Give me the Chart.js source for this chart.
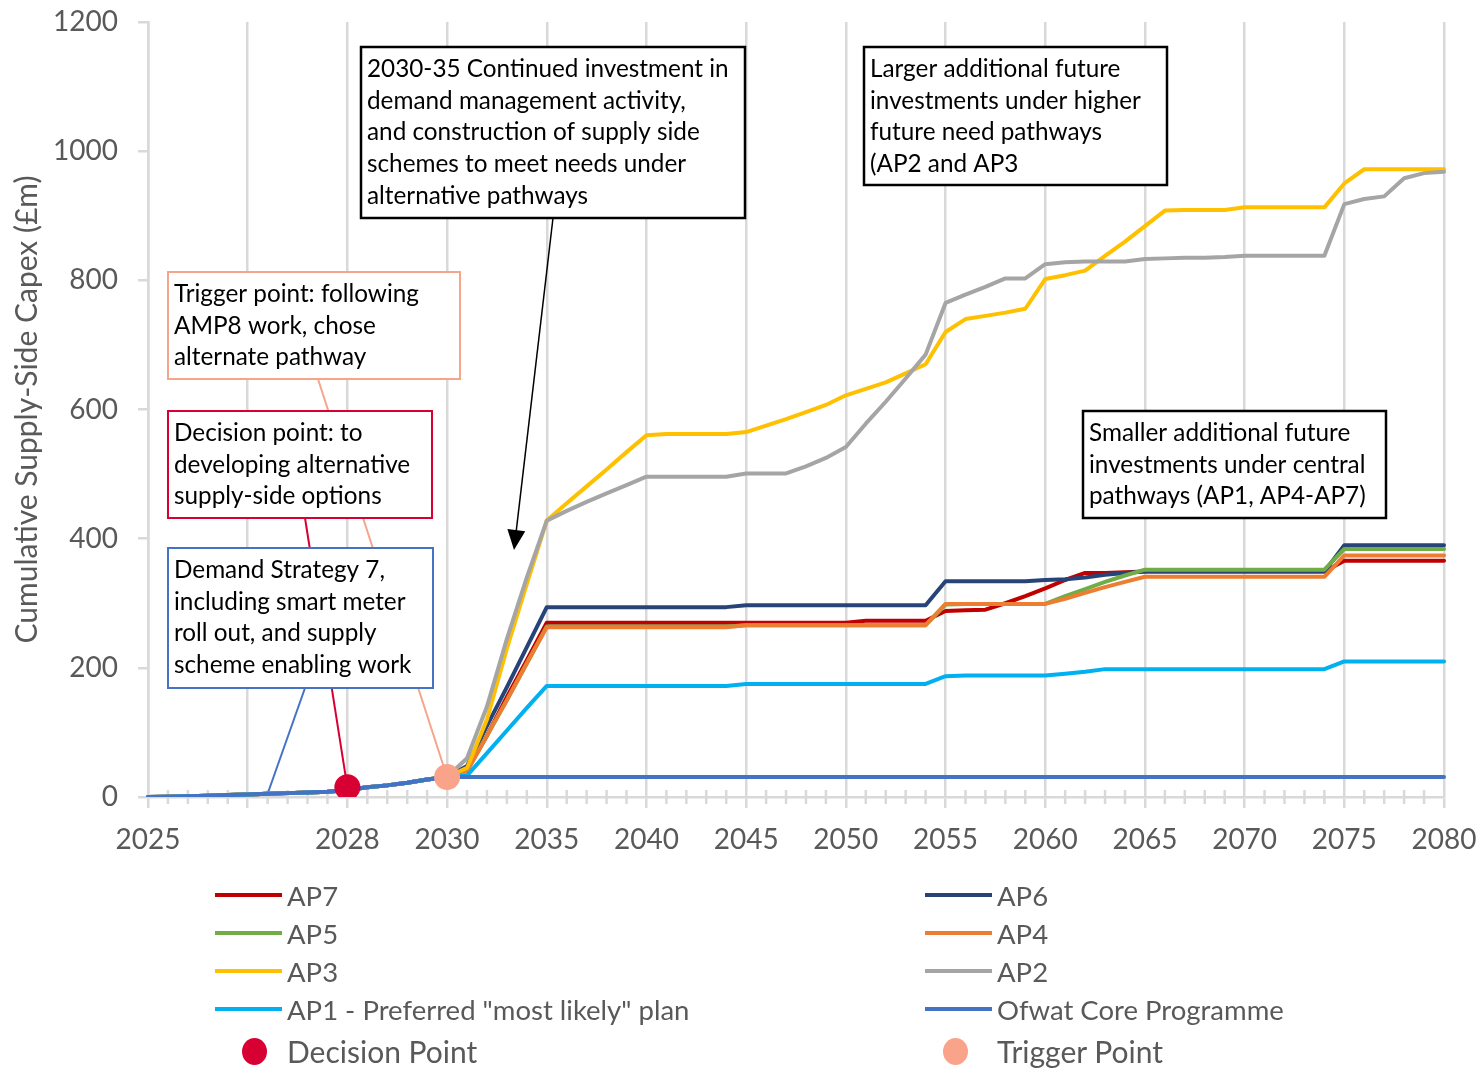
<!DOCTYPE html>
<html lang="en">
<head>
    <meta charset="UTF-8">
    <title>Cumulative Supply-Side Capex</title>
    <script src="https://cdn.jsdelivr.net/npm/chart.js"></script>
    <style>
        body {
            margin: 0;
            background-color: #ffffff;
            font-family: 'Lato', sans-serif;
        }
        #wrap {
            position: relative;
            width: 1476px;
            height: 1068px;
        }
        .legend-item {
            position: absolute;
            display: flex;
            align-items: center;
            height: 36px;
            color: #595959;
            font-size: 27.5px;
            white-space: nowrap;
        }
        .legend-line {
            display: inline-block;
            width: 67px;
            height: 4px;
            margin-right: 5px;
        }
        .legend-dot {
            display: inline-block;
            width: 25px;
            height: 27px;
            border-radius: 50%;
            margin-left: 27px;
        }
        .legend-item.big {
            font-size: 30px;
        }
    </style>
</head>
<body>
    <div id="wrap">
        <canvas id="capexChart" width="1476" height="1068"></canvas>
    </div>
    <script>
        // Categories (AMP8 is split into sub periods, then one per year)
        const categories = [
            '2025', '2025-2', '2025-3', '2026-1', '2026-2', '2026-3', '2027-1', '2027-2', '2027-3', '2027-4',
            '2028', '2028-2', '2028-3', '2029-1', '2029-2', '2030',
            '2031', '2032', '2033', '2034', '2035', '2036', '2037', '2038', '2039', '2040',
            '2041', '2042', '2043', '2044', '2045', '2046', '2047', '2048', '2049', '2050',
            '2051', '2052', '2053', '2054', '2055', '2056', '2057', '2058', '2059', '2060',
            '2061', '2062', '2063', '2064', '2065', '2066', '2067', '2068', '2069', '2070',
            '2071', '2072', '2073', '2074', '2075', '2076', '2077', '2078', '2079', '2080'
        ];
        // one label for every 5th category
        const tickLabels = ['2025', '', '2028', '2030', '2035', '2040', '2045', '2050', '2055', '2060', '2065', '2070', '2075', '2080'];

        // Series values (£m)
        const ap7 = [0, 0.5, 1, 2, 3, 4, 5, 6, 7, 8, 11, 15, 18, 22, 27, 31,
            42, 95, 155, 212, 270,
            270, 270, 270, 270, 270,
            270, 270, 270, 270, 270,
            270, 270, 270, 270, 270,
            273, 273, 273, 273, 288,
            289, 290, 300, 311, 323,
            336, 347, 347, 348, 349,
            349, 349, 349, 349, 349,
            349, 349, 349, 349, 366,
            366, 366, 366, 366, 366];
        const ap6 = [0, 0.5, 1, 2, 3, 4, 5, 6, 7, 8, 11, 15, 18, 22, 27, 31,
            48, 110, 170, 232, 294,
            294, 294, 294, 294, 294,
            294, 294, 294, 294, 297,
            297, 297, 297, 297, 297,
            297, 297, 297, 297, 334,
            334, 334, 334, 334, 336,
            337, 340, 344, 347, 349,
            349, 349, 349, 349, 349,
            349, 349, 349, 349, 390,
            390, 390, 390, 390, 390];
        const ap5 = [0, 0.5, 1, 2, 3, 4, 5, 6, 7, 8, 11, 15, 18, 22, 27, 31,
            40, 95, 150, 207, 264,
            264, 264, 264, 264, 264,
            264, 264, 264, 264, 266,
            266, 266, 266, 266, 266,
            266, 266, 266, 266, 298,
            299, 299, 299, 299, 299,
            311, 322, 333, 343, 352,
            352, 352, 352, 352, 352,
            352, 352, 352, 352, 384,
            384, 384, 384, 384, 384];
        const ap4 = [0, 0.5, 1, 2, 3, 4, 5, 6, 7, 8, 11, 15, 18, 22, 27, 31,
            40, 95, 150, 207, 263,
            263, 263, 263, 263, 263,
            263, 263, 263, 263, 266,
            266, 266, 266, 266, 266,
            266, 266, 266, 266, 299,
            299, 299, 299, 299, 299,
            307, 316, 325, 333, 341,
            341, 341, 341, 341, 341,
            341, 341, 341, 341, 374,
            374, 374, 374, 374, 374];
        const ap3 = [0, 0.5, 1, 2, 3, 4, 5, 6, 7, 8, 11, 15, 18, 22, 27, 31,
            45, 120, 230, 330, 428,
            455, 481, 507, 534, 560,
            562, 562, 562, 562, 565,
            575, 585, 596, 607, 622,
            632, 642, 656, 670, 720,
            740, 745, 750, 756, 802,
            808, 815, 838, 860, 884,
            908, 909, 909, 909, 913,
            913, 913, 913, 913, 950,
            972, 972, 972, 972, 972];
        const ap2 = [0, 0.5, 1, 2, 3, 4, 5, 6, 7, 8, 11, 15, 18, 22, 27, 31,
            60, 140, 245, 340, 428,
            443, 457, 470, 483, 496,
            496, 496, 496, 496, 501,
            501, 501, 512, 525, 542,
            578, 612, 648, 685, 765,
            778, 790, 803, 803, 825,
            828, 829, 829, 829, 833,
            834, 835, 835, 836, 838,
            838, 838, 838, 838, 918,
            926, 930, 958, 966, 968];
        const ap1 = [0, 0.5, 1, 2, 3, 4, 5, 6, 7, 8, 11, 15, 18, 22, 27, 31,
            33, 68, 103, 138, 172,
            172, 172, 172, 172, 172,
            172, 172, 172, 172, 175,
            175, 175, 175, 175, 175,
            175, 175, 175, 175, 187,
            188, 188, 188, 188, 188,
            191, 194, 198, 198, 198,
            198, 198, 198, 198, 198,
            198, 198, 198, 198, 210,
            210, 210, 210, 210, 210];
        const ofwat = [0, 0.5, 1, 2, 3, 4, 5, 6, 7, 8, 11, 15, 18, 22, 27, 31,
            31, 31, 31, 31, 31, 31, 31, 31, 31, 31,
            31, 31, 31, 31, 31, 31, 31, 31, 31, 31,
            31, 31, 31, 31, 31, 31, 31, 31, 31, 31,
            31, 31, 31, 31, 31, 31, 31, 31, 31, 31,
            31, 31, 31, 31, 31, 31, 31, 31, 31, 31];
        const decisionPoint = [{ x: '2028', y: 15 }];
        const triggerPoint = [{ x: '2030', y: 31 }];

        const seriesNames = ['AP7', 'AP6', 'AP5', 'AP4', 'AP3', 'AP2', 'AP1 - Preferred "most likely" plan', 'Ofwat Core Programme'];
        const seriesData = [ap7, ap6, ap5, ap4, ap3, ap2, ap1, ofwat];
        const seriesColors = ['#c00000', '#264478', '#70ad47', '#ed7d31', '#ffc000', '#a5a5a5', '#00b0f0', '#4472c4'];

        const gridGrey = '#d9d9d9';
        const textGrey = '#595959';

        // Build datasets, later ones drawn on top like in Excel
        const datasets = seriesNames.map((name, i) => ({
            label: name,
            data: seriesData[i],
            borderColor: seriesColors[i],
            backgroundColor: seriesColors[i],
            borderWidth: 4,
            pointRadius: 0,
            tension: 0,
            borderJoinStyle: 'round',
            borderCapStyle: 'round',
            order: 20 - i
        }));
        datasets.push({
            label: 'Decision Point',
            data: decisionPoint,
            showLine: false,
            pointRadius: 13,
            pointBackgroundColor: '#d80032',
            pointBorderWidth: 0,
            backgroundColor: '#d80032',
            order: 2
        });
        datasets.push({
            label: 'Trigger Point',
            data: triggerPoint,
            showLine: false,
            pointRadius: 13,
            pointBackgroundColor: '#f9a38a',
            pointBorderWidth: 0,
            backgroundColor: '#f9a38a',
            order: 1
        });

        // Annotation boxes (pixel layout)
        const notes = [
            { x: 361, y: 47, w: 384, h: 171, color: '#000000', lw: 2.5,
              lines: ['2030-35 Continued investment in', 'demand management activity,', 'and construction of supply side', 'schemes to meet needs under', 'alternative pathways'] },
            { x: 864, y: 47, w: 303, h: 138, color: '#000000', lw: 2.5,
              lines: ['Larger additional future', 'investments under higher', 'future need pathways', '(AP2 and AP3'] },
            { x: 1083, y: 411, w: 303, h: 107, color: '#000000', lw: 2.5,
              lines: ['Smaller additional future', 'investments under central', 'pathways (AP1, AP4-AP7)'] },
            { x: 168, y: 272, w: 292, h: 107, color: '#f4a58a', lw: 2,
              lines: ['Trigger point: following', 'AMP8 work, chose', 'alternate pathway'] },
            { x: 168, y: 411, w: 264, h: 107, color: '#d80032', lw: 2,
              lines: ['Decision point: to', 'developing alternative', 'supply-side options'] },
            { x: 168, y: 548, w: 265, h: 140, color: '#4472c4', lw: 2,
              lines: ['Demand Strategy 7,', 'including smart meter', 'roll out, and supply', 'scheme enabling work'] }
        ];

        // Plugin for minor ticks, callout lines and text boxes
        const annotationPlugin = {
            id: 'annotations',
            beforeDatasetsDraw(chart) {
                const ctx = chart.ctx;
                const xs = chart.scales.x;
                const ys = chart.scales.y;
                const bottom = chart.chartArea.bottom;

                // minor cross ticks on the category axis
                ctx.save();
                ctx.strokeStyle = gridGrey;
                ctx.lineWidth = 2.5;
                for (let i = 0; i < categories.length; i++) {
                    if (i % 5 === 0) continue;
                    const px = xs.getPixelForTick(i);
                    ctx.beginPath();
                    ctx.moveTo(px, bottom - 7);
                    ctx.lineTo(px, bottom + 7);
                    ctx.stroke();
                }

                // callout lines from boxes to the chart
                const dec = chart.getDatasetMeta(8).data[0];
                const trg = chart.getDatasetMeta(9).data[0];
                const links = [
                    { from: [318, 379], to: [trg.x, trg.y], color: '#f4a58a' },
                    { from: [305, 518], to: [dec.x, dec.y], color: '#d80032' },
                    { from: [305, 688], to: [xs.getPixelForValue(6), ys.getPixelForValue(ofwat[6])], color: '#4472c4' }
                ];
                links.forEach(l => {
                    ctx.strokeStyle = l.color;
                    ctx.lineWidth = 2;
                    ctx.beginPath();
                    ctx.moveTo(l.from[0], l.from[1]);
                    ctx.lineTo(l.to[0], l.to[1]);
                    ctx.stroke();
                });
                ctx.restore();
            },
            afterDatasetsDraw(chart) {
                const ctx = chart.ctx;
                ctx.save();

                // arrow from the 2030-35 box
                const ax = 553, ay = 218, tx = 514, ty = 550;
                const ang = Math.atan2(ty - ay, tx - ax);
                ctx.strokeStyle = '#000000';
                ctx.fillStyle = '#000000';
                ctx.lineWidth = 1.5;
                ctx.beginPath();
                ctx.moveTo(ax, ay);
                ctx.lineTo(tx - 18 * Math.cos(ang), ty - 18 * Math.sin(ang));
                ctx.stroke();
                ctx.beginPath();
                ctx.moveTo(tx, ty);
                ctx.lineTo(tx - 20 * Math.cos(ang) + 9 * Math.sin(ang), ty - 20 * Math.sin(ang) - 9 * Math.cos(ang));
                ctx.lineTo(tx - 20 * Math.cos(ang) - 9 * Math.sin(ang), ty - 20 * Math.sin(ang) + 9 * Math.cos(ang));
                ctx.closePath();
                ctx.fill();

                // text boxes
                ctx.font = '24.3px Lato';
                ctx.textBaseline = 'middle';
                notes.forEach(n => {
                    ctx.fillStyle = '#ffffff';
                    ctx.fillRect(n.x, n.y, n.w, n.h);
                    ctx.strokeStyle = n.color;
                    ctx.lineWidth = n.lw;
                    ctx.strokeRect(n.x, n.y, n.w, n.h);
                    ctx.fillStyle = '#000000';
                    n.lines.forEach((t, k) => {
                        ctx.fillText(t, n.x + 6, n.y + 22 + k * 31.8);
                    });
                });
                ctx.restore();
            }
        };

        const ctx = document.getElementById('capexChart').getContext('2d');
        const chart = new Chart(ctx, {
            type: 'line',
            data: {
                labels: categories,
                datasets: datasets
            },
            options: {
                responsive: false,
                animation: false,
                layout: {
                    padding: { top: 22, right: 32, bottom: 0, left: 0 }
                },
                plugins: {
                    legend: { display: false },
                    tooltip: { enabled: false }
                },
                scales: {
                    x: {
                        grid: {
                            color: c => (c.index % 5 === 0 ? gridGrey : 'rgba(0,0,0,0)'),
                            tickColor: c => (c.index % 5 === 0 ? gridGrey : 'rgba(0,0,0,0)'),
                            lineWidth: 2.5,
                            tickLength: 11
                        },
                        border: { color: gridGrey, width: 2.5 },
                        ticks: {
                            autoSkip: false,
                            maxRotation: 0,
                            color: textGrey,
                            padding: 15,
                            font: { family: 'Lato', size: 28 },
                            callback: (v, i) => (i % 5 === 0 ? tickLabels[i / 5] : '')
                        },
                        // fixed axis box so the plot area lines up with the picture
                        afterFit: s => {
                            s.height = 271;
                            s.paddingLeft = 0;
                            s.paddingRight = 0;
                        }
                    },
                    y: {
                        min: 0,
                        max: 1200,
                        grid: {
                            drawOnChartArea: false,
                            tickLength: 10,
                            tickColor: gridGrey,
                            lineWidth: 2.5
                        },
                        border: { color: gridGrey, width: 2.5 },
                        ticks: {
                            stepSize: 200,
                            color: textGrey,
                            padding: 20,
                            font: { family: 'Lato', size: 28 },
                            callback: v => String(v)
                        },
                        title: {
                            display: true,
                            text: 'Cumulative Supply-Side Capex (£m)',
                            color: textGrey,
                            padding: { top: 9, bottom: 0 },
                            font: { family: 'Lato', size: 30 }
                        },
                        afterFit: s => {
                            s.width = 148;
                            s.paddingTop = 0;
                            s.paddingBottom = 0;
                        }
                    }
                }
            },
            plugins: [annotationPlugin]
        });

        // Function to build the two column legend under the chart
        function buildLegend() {
            const wrap = document.getElementById('wrap');
            chart.data.datasets.forEach((ds, i) => {
                const col = i % 2;
                const row = Math.floor(i / 2);
                const item = document.createElement('div');
                item.className = 'legend-item';
                item.style.left = (col === 0 ? 215 : 925) + 'px';
                if (row < 4) {
                    item.style.top = (895 + row * 38 - 18) + 'px';
                    item.innerHTML = '<span class="legend-line" style="background:' + ds.borderColor + '"></span><span></span>';
                } else {
                    // point entries: marker then a wider gap before the text
                    item.classList.add('big');
                    item.style.left = (col === 0 ? 215 : 916) + 'px';
                    item.style.top = (1051 - 18) + 'px';
                    const gap = col === 0 ? 20 : 29;
                    item.innerHTML = '<span class="legend-dot" style="background:' + ds.backgroundColor + ';margin-right:' + gap + 'px"></span><span></span>';
                }
                item.lastChild.textContent = ds.label;
                wrap.appendChild(item);
            });
        }

        buildLegend();
    </script>
</body>
</html>
